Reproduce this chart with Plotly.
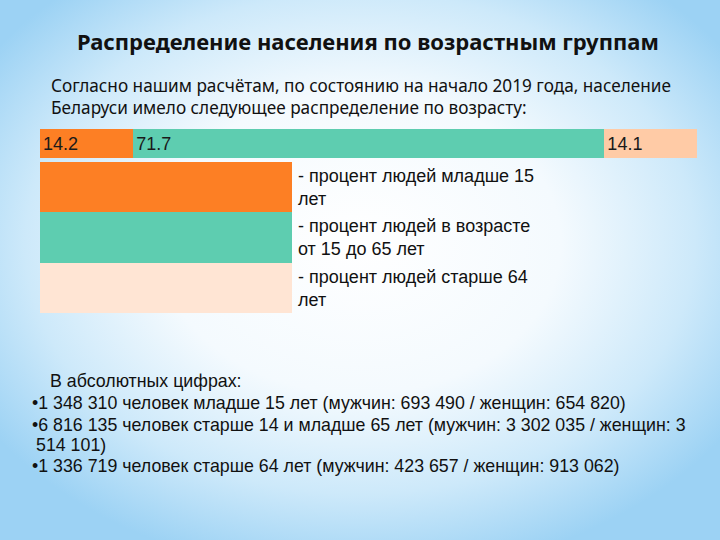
import base64
import plotly.graph_objects as go

# ---- data ----
groups = ["младше 15 лет", "от 15 до 65 лет", "старше 64 лет"]
shares = [14.2, 71.7, 14.1]
bar_colors = ["#FD7F24", "#5ECDB0", "#FFCBA6"]
legend_colors = ["#FD7F24", "#5ECDB0", "#FFE5D4"]
legend_texts = [
    "- процент людей младше 15<br>лет",
    "- процент людей в возрасте<br>от 15 до 65 лет",
    "- процент людей старше 64<br>лет",
]
title_text = "Распределение населения по возрастным группам"
intro_lines = [
    "Согласно нашим расчётам, по состоянию на начало 2019 года, население",
    "Беларуси имело следующее распределение по возрасту:",
]
abs_lines = [
    ("В абсолютных цифрах:", 48),
    ("•1 348 310 человек младше 15 лет (мужчин: 693 490 / женщин: 654 820)", 30),
    ("•6 816 135 человек старше 14 и младше 65 лет (мужчин: 3 302 035 / женщин: 3", 30),
    ("514 101)", 34),
    ("•1 336 719 человек старше 64 лет (мужчин: 423 657 / женщин: 913 062)", 30),
]

W, H = 720, 540

def px(x):
    return x / W

def py(y):
    return 1 - y / H

# background radial gradient as svg
svg = f"""<svg xmlns='http://www.w3.org/2000/svg' width='{W}' height='{H}'>
<defs><radialGradient id='g' cx='50%' cy='45%' r='62%' fx='50%' fy='45%'>
<stop offset='0%' stop-color='#FFFFFF'/>
<stop offset='45%' stop-color='#F4FAFE'/>
<stop offset='75%' stop-color='#CDE9FA'/>
<stop offset='100%' stop-color='#9CD2F4'/>
</radialGradient></defs>
<rect width='{W}' height='{H}' fill='url(#g)'/></svg>"""
svg_uri = "data:image/svg+xml;base64," + base64.b64encode(svg.encode()).decode()

fig = go.Figure()
for g, v, c in zip(groups, shares, bar_colors):
    fig.add_trace(go.Bar(
        x=[v], y=[0], orientation="h", name=g,
        marker=dict(color=c, line=dict(width=0)),
        text=[f"{v:.1f}"], textposition="inside", insidetextanchor="start",
        textfont=dict(family="Liberation Sans, Arial", size=18, color="#1a1a1a"),
        width=1, hoverinfo="skip",
    ))

shapes = []
box_top = [162, 212, 263]
box_bot = [212, 263, 313]
annotations = []
for c, t, yt, yb in zip(legend_colors, legend_texts, box_top, box_bot):
    shapes.append(dict(type="rect", xref="paper", yref="paper",
                       x0=px(40), x1=px(292), y0=py(yb), y1=py(yt),
                       fillcolor=c, line=dict(width=0), layer="above"))
    annotations.append(dict(text=t, xref="paper", yref="paper",
                            x=px(296), y=py(yt + 2), xanchor="left", yanchor="top",
                            showarrow=False, align="left",
                            font=dict(family="Liberation Sans, Arial", size=18, color="#111")))

annotations.append(dict(text="<b>" + title_text + "</b>", xref="paper", yref="paper",
                        x=px(368), y=py(41), xanchor="center", yanchor="middle",
                        showarrow=False,
                        font=dict(family="Noto Sans", size=22, color="#111")))
for i, line in enumerate(intro_lines):
    annotations.append(dict(text=line, xref="paper", yref="paper",
                            x=px(49), y=py(86 + 21 * i), xanchor="left", yanchor="middle",
                            showarrow=False,
                            font=dict(family="Noto Sans", size=17.2, color="#111")))
ys = [381, 403, 425, 445, 466]
for (line, x0), yy in zip(abs_lines, ys):
    annotations.append(dict(text=line, xref="paper", yref="paper",
                            x=px(x0), y=py(yy), xanchor="left", yanchor="middle",
                            showarrow=False,
                            font=dict(family="Liberation Sans", size=17.8, color="#111")))

fig.update_layout(
    width=W, height=H, margin=dict(l=0, r=0, t=0, b=0),
    barmode="stack", showlegend=False,
    paper_bgcolor="white", plot_bgcolor="rgba(0,0,0,0)",
    xaxis=dict(domain=[px(40), px(697)], range=[0, 100], visible=False, fixedrange=True),
    yaxis=dict(domain=[py(158), py(129)], range=[-0.5, 0.5], visible=False, fixedrange=True),
    images=[dict(source=svg_uri, xref="paper", yref="paper", x=0, y=1,
                 sizex=1, sizey=1, xanchor="left", yanchor="top",
                 sizing="stretch", layer="below")],
    shapes=shapes, annotations=annotations,
)
fig.write_html("out.html")
